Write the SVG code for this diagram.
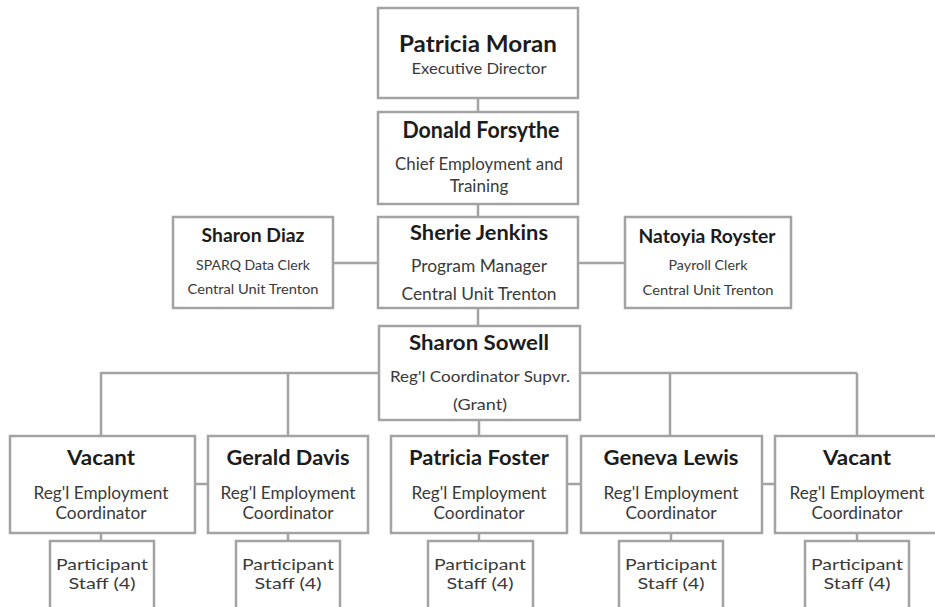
<svg xmlns="http://www.w3.org/2000/svg" width="935" height="607" viewBox="0 0 935 607">
<style>
.box{fill:#ffffff;stroke:#a3a3a3;stroke-width:2.5}
.ln{fill:none;stroke:#a3a3a3;stroke-width:2.5}
text{font-family:Lato,"Open Sans","Liberation Sans",sans-serif;text-anchor:middle}
.n{font-weight:bold;fill:#1c1c1c}
.s{fill:#3a3a3a}
.p{fill:#3a3a3a;font-size:15px}
</style>
<rect width="935" height="607" fill="#ffffff"/>
<g id="connectors">
<path class="ln" d="M478 98V112M478 204V217M478 308V326"/>
<path class="ln" d="M333 263H378M578 263H625"/>
<path class="ln" d="M101 373H857M101 372V436M288 372V436M670 373V436M857 373V436M479 420V436"/>
<path class="ln" d="M195 484H208M567 484H581M762 484H775"/>
<path class="ln" d="M101 533V541M288 533V541M479 533V541M671 533V541M857 533V541"/>
</g>
<g id="patricia-moran">
<rect class="box" x="378" y="8" width="200" height="90"/>
<text class="n" x="478" y="52" font-size="22" textLength="158" lengthAdjust="spacingAndGlyphs">Patricia Moran</text>
<text class="s" x="479" y="74" font-size="16" textLength="135" lengthAdjust="spacingAndGlyphs">Executive Director</text>
</g>
<g id="donald-forsythe">
<rect class="box" x="378" y="112" width="200" height="92"/>
<text class="n" x="481" y="138" font-size="22" textLength="157" lengthAdjust="spacingAndGlyphs">Donald Forsythe</text>
<text class="s" x="479" y="170" font-size="17" textLength="168" lengthAdjust="spacingAndGlyphs">Chief Employment and</text>
<text class="s" x="479" y="192" font-size="17">Training</text>
</g>
<g id="sharon-diaz">
<rect class="box" x="173" y="217" width="160" height="91"/>
<text class="n" x="253" y="242" font-size="18" textLength="103" lengthAdjust="spacingAndGlyphs">Sharon Diaz</text>
<text class="s" x="253" y="270" font-size="13.5" textLength="114" lengthAdjust="spacingAndGlyphs">SPARQ Data Clerk</text>
<text class="s" x="253" y="294" font-size="13.5" textLength="131" lengthAdjust="spacingAndGlyphs">Central Unit Trenton</text>
</g>
<g id="sherie-jenkins">
<rect class="box" x="378" y="217" width="200" height="91"/>
<text class="n" x="479" y="240" font-size="20" textLength="138" lengthAdjust="spacingAndGlyphs">Sherie Jenkins</text>
<text class="s" x="479" y="272" font-size="17" textLength="136" lengthAdjust="spacingAndGlyphs">Program Manager</text>
<text class="s" x="479" y="300" font-size="17" textLength="155" lengthAdjust="spacingAndGlyphs">Central Unit Trenton</text>
</g>
<g id="natoyia-royster">
<rect class="box" x="625" y="217" width="166" height="91"/>
<text class="n" x="707" y="243" font-size="18" textLength="137" lengthAdjust="spacingAndGlyphs">Natoyia Royster</text>
<text class="s" x="708" y="270" font-size="13.5" textLength="79" lengthAdjust="spacingAndGlyphs">Payroll Clerk</text>
<text class="s" x="708" y="295" font-size="13.5" textLength="131" lengthAdjust="spacingAndGlyphs">Central Unit Trenton</text>
</g>
<g id="sharon-sowell">
<rect class="box" x="379" y="326" width="201" height="94"/>
<text class="n" x="479" y="350" font-size="20" textLength="140" lengthAdjust="spacingAndGlyphs">Sharon Sowell</text>
<text class="s" x="480" y="382" font-size="16" textLength="180" lengthAdjust="spacingAndGlyphs">Reg'l Coordinator Supvr.</text>
<text class="s" x="480" y="410" font-size="16" textLength="54" lengthAdjust="spacingAndGlyphs">(Grant)</text>
</g>
<g id="vacant-1">
<rect class="box" x="10" y="436" width="185" height="97"/>
<text class="n" x="101" y="465" font-size="20" textLength="68" lengthAdjust="spacingAndGlyphs">Vacant</text>
<text class="s" x="101" y="499" font-size="16.5" textLength="135" lengthAdjust="spacingAndGlyphs">Reg'l Employment</text>
<text class="s" x="101" y="519" font-size="16.5" textLength="91" lengthAdjust="spacingAndGlyphs">Coordinator</text>
</g>
<g id="gerald-davis">
<rect class="box" x="208" y="436" width="160" height="97"/>
<text class="n" x="288" y="465" font-size="20" textLength="123" lengthAdjust="spacingAndGlyphs">Gerald Davis</text>
<text class="s" x="288" y="499" font-size="16.5" textLength="135" lengthAdjust="spacingAndGlyphs">Reg'l Employment</text>
<text class="s" x="288" y="519" font-size="16.5" textLength="91" lengthAdjust="spacingAndGlyphs">Coordinator</text>
</g>
<g id="patricia-foster">
<rect class="box" x="391" y="436" width="176" height="97"/>
<text class="n" x="479" y="465" font-size="20" textLength="140" lengthAdjust="spacingAndGlyphs">Patricia Foster</text>
<text class="s" x="479" y="499" font-size="16.5" textLength="135" lengthAdjust="spacingAndGlyphs">Reg'l Employment</text>
<text class="s" x="479" y="519" font-size="16.5" textLength="91" lengthAdjust="spacingAndGlyphs">Coordinator</text>
</g>
<g id="geneva-lewis">
<rect class="box" x="581" y="436" width="181" height="97"/>
<text class="n" x="671" y="465" font-size="20" textLength="135" lengthAdjust="spacingAndGlyphs">Geneva Lewis</text>
<text class="s" x="671" y="499" font-size="16.5" textLength="135" lengthAdjust="spacingAndGlyphs">Reg'l Employment</text>
<text class="s" x="671" y="519" font-size="16.5" textLength="91" lengthAdjust="spacingAndGlyphs">Coordinator</text>
</g>
<g id="vacant-2">
<rect class="box" x="775" y="436" width="170" height="97"/>
<text class="n" x="857" y="465" font-size="20" textLength="68" lengthAdjust="spacingAndGlyphs">Vacant</text>
<text class="s" x="857" y="499" font-size="16.5" textLength="135" lengthAdjust="spacingAndGlyphs">Reg'l Employment</text>
<text class="s" x="857" y="519" font-size="16.5" textLength="91" lengthAdjust="spacingAndGlyphs">Coordinator</text>
</g>
<g id="staff-1">
<rect class="box" x="50" y="541" width="104" height="80"/>
<text class="p" x="102" y="570" textLength="92" lengthAdjust="spacingAndGlyphs">Participant</text>
<text class="p" x="102" y="589" textLength="67" lengthAdjust="spacingAndGlyphs">Staff (4)</text>
</g>
<g id="staff-2">
<rect class="box" x="236" y="541" width="104" height="80"/>
<text class="p" x="288" y="570" textLength="92" lengthAdjust="spacingAndGlyphs">Participant</text>
<text class="p" x="288" y="589" textLength="67" lengthAdjust="spacingAndGlyphs">Staff (4)</text>
</g>
<g id="staff-3">
<rect class="box" x="428" y="541" width="105" height="80"/>
<text class="p" x="480" y="570" textLength="92" lengthAdjust="spacingAndGlyphs">Participant</text>
<text class="p" x="480" y="589" textLength="67" lengthAdjust="spacingAndGlyphs">Staff (4)</text>
</g>
<g id="staff-4">
<rect class="box" x="619" y="541" width="104" height="80"/>
<text class="p" x="671" y="570" textLength="92" lengthAdjust="spacingAndGlyphs">Participant</text>
<text class="p" x="671" y="589" textLength="67" lengthAdjust="spacingAndGlyphs">Staff (4)</text>
</g>
<g id="staff-5">
<rect class="box" x="805" y="541" width="104" height="80"/>
<text class="p" x="857" y="570" textLength="92" lengthAdjust="spacingAndGlyphs">Participant</text>
<text class="p" x="857" y="589" textLength="67" lengthAdjust="spacingAndGlyphs">Staff (4)</text>
</g>
</svg>
